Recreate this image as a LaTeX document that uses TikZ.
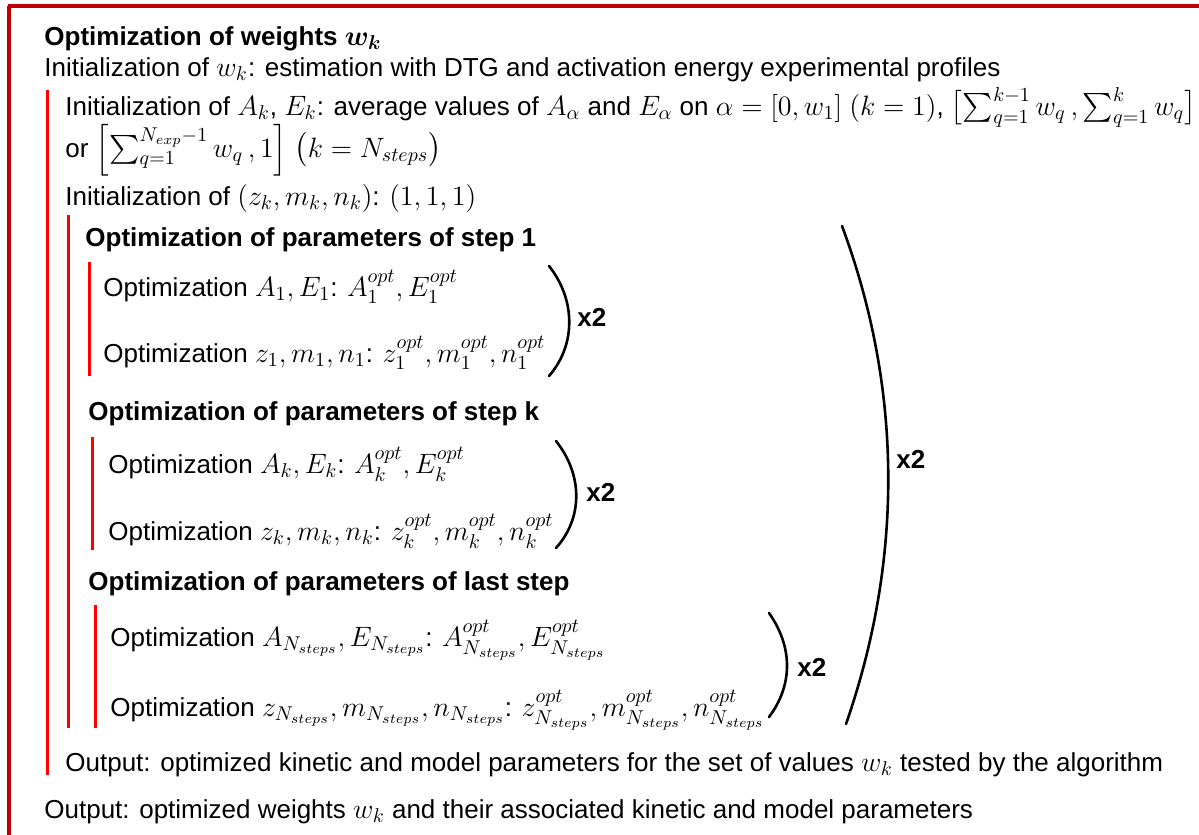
\RequirePackage{fix-cm}
\documentclass[tikz,border=0pt]{standalone}
\usepackage{amsmath}
\usepackage{bm}
\usepackage{fontspec}
\setmainfont{Liberation Sans}
\DeclareMathSizes{13}{14}{10}{7}
\definecolor{darkred}{HTML}{C00000}
\definecolor{barred}{HTML}{FF0000}
\begin{document}
\begin{tikzpicture}[x=0.5pt,y=-0.5pt,
  txt/.style={anchor=base west, inner sep=0pt, font=\fontsize{13}{15}\selectfont},
  hd/.style={anchor=base west, inner sep=0pt, font=\fontsize{13}{15}\selectfont\bfseries},
  bar/.style={draw=barred, line width=1.5pt},
  outer/.style={draw=darkred, line width=1.6pt},
  paren/.style={draw=black, line width=1.3pt, line cap=round}]
\useasboundingbox (0,0) rectangle (1199,835);
% outer frame
\draw[outer] (8,6) -- (1199,6);
\draw[outer] (9,6) -- (9,835);
% texts
\node[hd] (title) at (44,45) {Optimization of weights $\bm{w_k}$};
\node[txt] (initw) at (44,76) {Initialization of $w_k$: estimation with DTG and activation energy experimental profiles};
\draw[bar] (47,90) -- (47,775);
\node[txt] (initA) at (65,115) {Initialization of $A_k$, $E_k$: average values of $A_\alpha$ and $E_\alpha$ on $\alpha=[0,w_1]$ $(k=1)$, $\bigl[\sum_{q=1}^{k-1} w_q\,,\sum_{q=1}^{k} w_q\bigr]$};
\node[txt] (initor) at (65,157) {or $\Bigl[\sum_{q=1}^{N_{exp}-1} w_q\,,1\Bigr]$ $\bigl(k=N_{steps}\bigr)$};
\node[txt] (initz) at (65,205) {Initialization of $(z_k,m_k,n_k)$: $(1,1,1)$};
\draw[bar] (68,215) -- (68,728);
% step 1
\node[hd] (h1) at (85,246) {Optimization of parameters of step 1};
\draw[bar] (89,262) -- (89,376);
\node[txt] (a1) at (103,296) {Optimization $A_1,E_1$: $A_1^{opt},E_1^{opt}$};
\node[txt] (z1) at (103,362) {Optimization $z_1,m_1,n_1$: $z_1^{opt},m_1^{opt},n_1^{opt}$};
\draw[paren] (549,266) .. controls (576,300) and (576,345) .. (549,376);
\node[hd] (x2a) at (577,326) {x2};
% step k
\node[hd] (hk) at (88,420) {Optimization of parameters of step k};
\draw[bar] (92,437) -- (92,550);
\node[txt] (ak) at (108,473) {Optimization $A_k,E_k$: $A_k^{opt},E_k^{opt}$};
\node[txt] (zk) at (108,540) {Optimization $z_k,m_k,n_k$: $z_k^{opt},m_k^{opt},n_k^{opt}$};
\draw[paren] (556,441) .. controls (583,475) and (583,518) .. (556,548);
\node[hd] (x2b) at (586,501) {x2};
% last step
\node[hd] (hl) at (88,590) {Optimization of parameters of last step};
\draw[bar] (95,605) -- (95,728);
\node[txt] (aN) at (110,646) {Optimization $A_{N_{steps}},E_{N_{steps}}$: $A_{N_{steps}}^{opt},E_{N_{steps}}^{opt}$};
\node[txt] (zN) at (110,716) {Optimization $z_{N_{steps}},m_{N_{steps}},n_{N_{steps}}$: $z_{N_{steps}}^{opt},m_{N_{steps}}^{opt},n_{N_{steps}}^{opt}$};
\draw[paren] (769,613) .. controls (793,647) and (793,685) .. (769,717);
\node[hd] (x2c) at (797,676) {x2};
% big paren
\draw[paren] (842,226) .. controls (903,390) and (903,560) .. (846,724);
\node[hd] (x2d) at (896,468) {x2};
% outputs
\node[txt] (out1) at (65,771) {Output: optimized kinetic and model parameters for the set of values $w_k$ tested by the algorithm};
\node[txt] (out2) at (44,818) {Output: optimized weights $w_k$ and their associated kinetic and model parameters};
\end{tikzpicture}
\end{document}
